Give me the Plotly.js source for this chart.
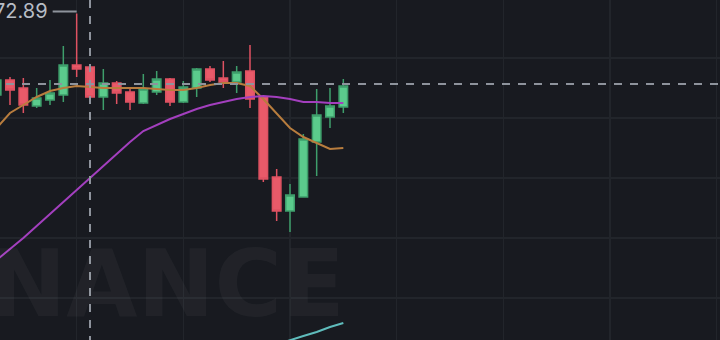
<!DOCTYPE html>
<html><head><meta charset="utf-8">
<script src="https://cdn.plot.ly/plotly-3.0.1.min.js"></script>
<style>html,body{margin:0;padding:0;background:#181a20;overflow:hidden}#chart{width:720px;height:340px}</style>
</head><body><div id="chart"></div>
<script>
// candle index (time slot)
const candle = [0,1,2,3,4,5,6,7,8,9,10,11,12,13,14,15,16,17,18,19,20,21,22,23,24,25,26];
const open  = [71.26,71.56,71.40,71.04,71.16,71.26,71.86,71.82,71.22,71.50,71.32,71.10,71.32,71.58,71.12,71.40,71.78,71.60,71.52,71.74,71.22,69.62,68.94,69.22,70.32,70.82,71.02];
const high  = [71.60,71.62,71.60,71.40,71.56,72.24,72.89,71.86,71.78,71.54,71.42,71.68,71.74,71.60,71.54,71.80,71.84,71.94,71.84,72.26,71.22,69.78,69.48,70.48,71.38,71.40,71.58];
const low   = [71.22,71.06,70.90,71.00,71.06,71.12,71.62,71.16,70.96,71.08,70.96,71.08,71.26,71.04,71.10,71.22,71.52,71.40,71.30,71.00,69.52,68.74,68.52,69.22,69.64,70.60,70.90];
const close = [71.56,71.36,71.06,71.20,71.30,71.86,71.78,71.22,71.50,71.30,71.12,71.38,71.58,71.12,71.42,71.78,71.56,71.52,71.72,71.18,69.58,68.94,69.26,70.38,70.86,71.04,71.44];

const ma7  = [70.60,70.90,71.06,71.22,71.34,71.40,71.44,71.42,71.40,71.40,71.40,71.40,71.38,71.36,71.36,71.40,71.46,71.50,71.50,71.44,71.18,70.90,70.60,70.42,70.30,70.18,70.20];
const ma25 = [67.96,68.18,68.40,68.64,68.88,69.10,69.34,69.58,69.84,70.08,70.32,70.54,70.66,70.78,70.88,70.98,71.06,71.12,71.18,71.22,71.24,71.22,71.18,71.12,71.12,71.10,71.10];
const ma99Candle = [21,22,23,24,25,26];
const ma99 = [66.27,66.36,66.44,66.52,66.62,66.70];

const highCandle = 6;
const highLabel = "72.89";
const crossCandle = 7;
const crossPrice = 71.48;
const watermark = "BINANCE";

const traces = [
  {type:'scatter', mode:'lines', x:candle, y:ma7, line:{color:'#b87d3e', width:2}, hoverinfo:'skip'},
  {type:'scatter', mode:'lines', x:candle, y:ma25, line:{color:'#a33fbe', width:2}, hoverinfo:'skip'},
  {type:'scatter', mode:'lines', x:ma99Candle, y:ma99, line:{color:'#5fbcbc', width:2}, hoverinfo:'skip'},
  {type:'candlestick', x:candle, open:open, high:high, low:low, close:close,
   increasing:{line:{color:'#3e9e6b', width:1.5}, fillcolor:'#5bcb8c'},
   decreasing:{line:{color:'#df5262', width:1.5}, fillcolor:'#e95a69'},
   whiskerwidth:0, hoverinfo:'skip'}
];

const layout = {
  width:720, height:340,
  margin:{l:0,r:0,t:0,b:0,pad:0},
  paper_bgcolor:'#181a20', plot_bgcolor:'#181a20',
  showlegend:false, hovermode:false,
  boxgap:0.36, boxgroupgap:0,
  xaxis:{range:[0.25,54.25], showticklabels:false, ticks:'', zeroline:false, showline:false,
         showgrid:true, gridcolor:'#22252b', gridwidth:1.5, tick0:6, dtick:8,
         rangeslider:{visible:false}, fixedrange:true},
  yaxis:{range:[66.36,73.16], showticklabels:false, ticks:'', zeroline:false, showline:false,
         showgrid:true, gridcolor:'#22252b', gridwidth:1.5, tick0:72.0, dtick:1.2, fixedrange:true},
  shapes:[
    {type:'line', xref:'x', yref:'paper', x0:crossCandle, x1:crossCandle, y0:1, y1:0,
     line:{color:'#8e939c', width:2, dash:'8px,8px'}, layer:'above'},
    {type:'line', xref:'paper', yref:'y', x0:-10/720, x1:1, y0:crossPrice, y1:crossPrice,
     line:{color:'#8e939c', width:2, dash:'8px,8px'}, layer:'above'}
  ],
  annotations:[
    {xref:'paper', yref:'paper', x:347/720, y:1-284/340, xanchor:'right', yanchor:'middle',
     text:watermark, showarrow:false,
     font:{family:'DejaVu Sans', size:92, weight:700, color:'rgba(255,255,255,0.038)'}},
    {xref:'x', yref:'y', x:highCandle, y:high[highCandle], text:highLabel,
     showarrow:true, arrowhead:0, arrowwidth:2, arrowcolor:'#8e939c', ax:-24, ay:0,
     xanchor:'right', yanchor:'middle', borderpad:4, yshift:2,
     font:{family:'Inter', size:20, color:'#b7bdc6'}}
  ]
};

Plotly.newPlot('chart', traces, layout, {staticPlot:true, displayModeBar:false});
</script>
</body></html>
